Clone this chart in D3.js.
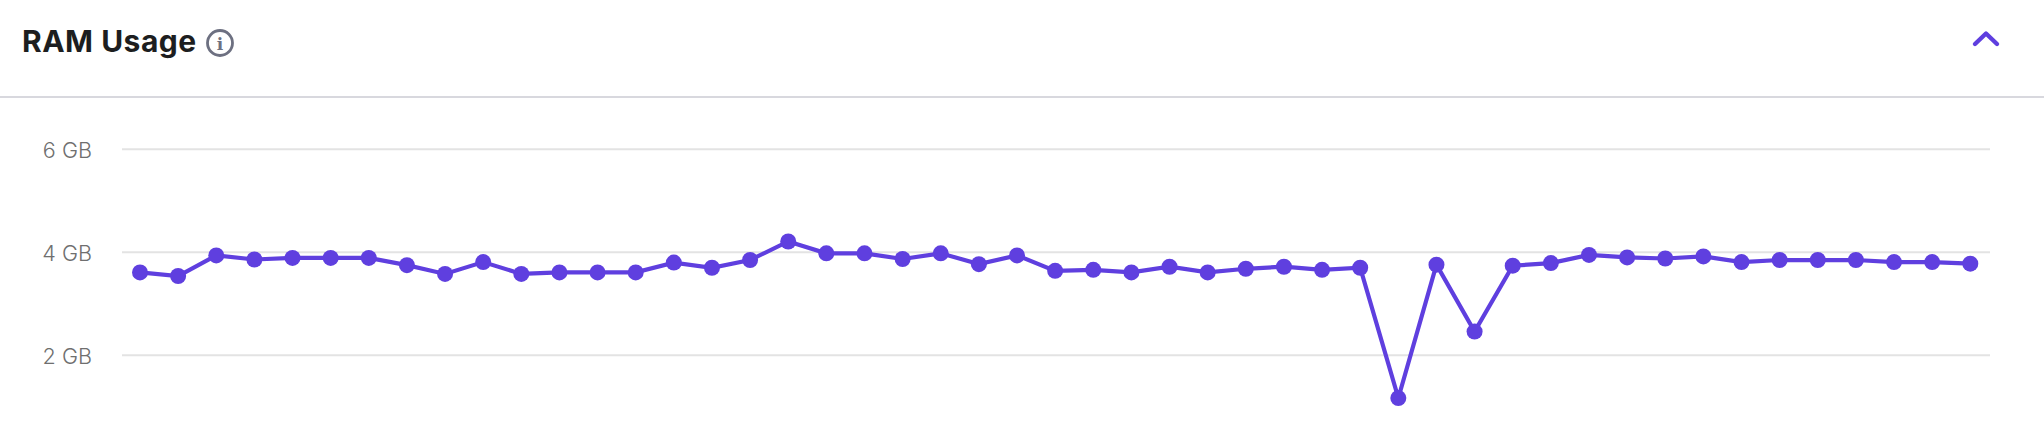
<!DOCTYPE html>
<html><head><meta charset="utf-8">
<script src="https://cdn.jsdelivr.net/npm/d3@7"></script>
<style>html,body{margin:0;padding:0;background:#fff}svg{display:block}</style>
</head><body><svg id="c" width="2044" height="438"></svg>
<script>
const title = "RAM Usage";
const tickValues = [2, 4, 6];
const tickLabels = ["2 GB", "4 GB", "6 GB"];
const ramValues = [3.61,3.54,3.94,3.86,3.89,3.89,3.89,3.75,3.58,3.81,3.58,3.61,3.61,3.61,3.80,
  3.70,3.85,4.21,3.98,3.98,3.87,3.98,3.77,3.94,3.64,3.66,3.61,3.72,3.61,3.68,3.72,3.66,3.70,
  1.17,3.76,2.46,3.74,3.79,3.95,3.90,3.88,3.92,3.81,3.85,3.85,3.85,3.81,3.81,3.78];
const svg = d3.select("#c");
const purple = "#5f3fdf";
const x = d3.scalePoint().domain(d3.range(ramValues.length)).range([140, 1970.3]);
const y = d3.scaleLinear().domain([2, 6]).range([355.3, 149.3]);
svg.append("text").attr("x",22).attr("y",51.5).attr("font-family","Inter, 'Noto Sans', sans-serif")
  .attr("font-weight",700).attr("font-size",30).attr("letter-spacing",0.5).attr("fill","#1d1e20").attr("opacity",0.999).text(title);
const info = svg.append("g").attr("transform","translate(220,43)");
info.append("circle").attr("r",12.5).attr("fill","none").attr("stroke","#6d7081").attr("stroke-width",2.8);
info.append("text").attr("text-anchor","middle").attr("y",6.5).attr("font-family","'DejaVu Serif', serif")
  .attr("font-weight",700).attr("font-size",17).attr("fill","#6d7081").attr("opacity",0.999).text("i");
svg.append("path").attr("d",d3.line()([[1975,44],[1986,33.5],[1997,44]])).attr("fill","none")
  .attr("stroke",purple).attr("stroke-width",4.4).attr("stroke-linecap","round").attr("stroke-linejoin","round");
svg.append("line").attr("x1",0).attr("x2",2044).attr("y1",97).attr("y2",97).attr("stroke","#d8d8de").attr("stroke-width",2);
const axis = d3.axisLeft(y).tickValues(tickValues).tickFormat((d,i)=>tickLabels[i]).tickSize(0).tickPadding(0);
const ag = svg.append("g").attr("transform","translate(92,0)").attr("opacity",0.999).call(axis);
ag.select(".domain").remove();
ag.selectAll("text").attr("font-family","Inter, sans-serif").attr("font-weight",300).attr("font-size",21.6).attr("fill","#6f6f6f").attr("dy","0.36em");
svg.append("g").selectAll("line").data(tickValues).join("line")
  .attr("x1",122).attr("x2",1990).attr("y1",d=>y(d)).attr("y2",d=>y(d)).attr("stroke","#e3e3e3").attr("stroke-width",2);
svg.append("path").datum(ramValues).attr("fill","none").attr("stroke",purple).attr("stroke-width",4.2)
  .attr("d",d3.line().x((d,i)=>x(i)).y(d=>y(d)));
svg.append("g").selectAll("circle").data(ramValues).join("circle")
  .attr("cx",(d,i)=>x(i)).attr("cy",d=>y(d)).attr("r",8).attr("fill",purple);
</script></body></html>
